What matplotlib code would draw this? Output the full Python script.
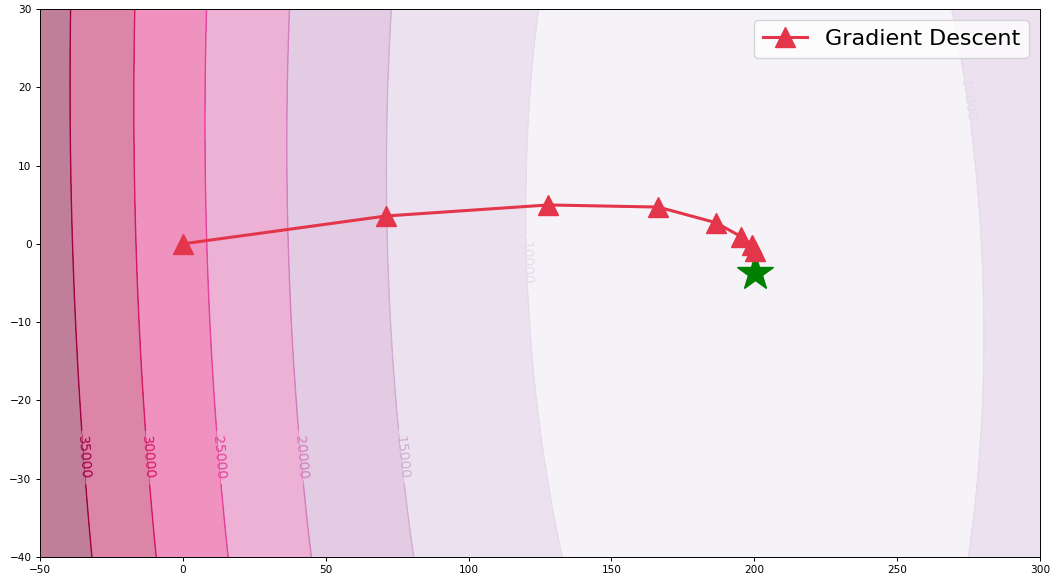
"""
Cost surface with gradient descent path
"""

import numpy as np
import matplotlib
matplotlib.use("Agg")
import matplotlib.pyplot as plt

# cost surface
w_opt, b_opt = 200.2, -3.7      # minimum (green star)
cost_min = 6850                  # cost at the minimum
x_mean, x_sq_mean = 0.1, 0.99    # feature moments -> shape of the bowl

w_range = [-50, 300]
b_range = [-40, 30]

# gradient descent steps
gd_w = [0, 71.1, 127.9, 166.4, 186.6, 195.4, 199.1, 200.3]
gd_b = [0, 3.56, 4.97, 4.7, 2.7, 0.92, -0.14, -0.9]

# where the contour labels sit
label_pos = [(-35, -27.3), (-12, -27.3), (12, -27.3), (40, -27.3), (75, -27.3),
             (120, -2.4), (274.5, 18.4)]


def cost(w, b):
    dw = w - w_opt
    db = b - b_opt
    return cost_min + 0.5 * (x_sq_mean * dw**2 + 2 * x_mean * dw * db + db**2)


def main():
    W, B = np.meshgrid(np.linspace(*w_range, 400), np.linspace(*b_range, 400))
    J = cost(W, B)

    fig = plt.figure(figsize=(10.55, 5.78), dpi=100)
    ax = fig.add_axes([40 / 1055, 1 - 557 / 578, 1000 / 1055, 548 / 578])

    ax.contourf(W, B, J, cmap="PuRd", alpha=0.5)
    cs = ax.contour(W, B, J, cmap="PuRd", linewidths=1.0)
    ax.clabel(cs, fontsize=10, manual=label_pos)

    ax.plot(w_opt, b_opt, "*", color="green", markersize=27)
    ax.plot(gd_w, gd_b, "^-", color="#e3364a", lw=2.2, markersize=14,
            label="Gradient Descent")

    ax.tick_params(labelsize=7.6, length=2.6, width=0.7)
    for s in ax.spines.values():
        s.set_linewidth(0.7)
    ax.legend(loc="upper right", fontsize=16)

    fig.savefig("out.png", dpi=100)


if __name__ == "__main__":
    main()
